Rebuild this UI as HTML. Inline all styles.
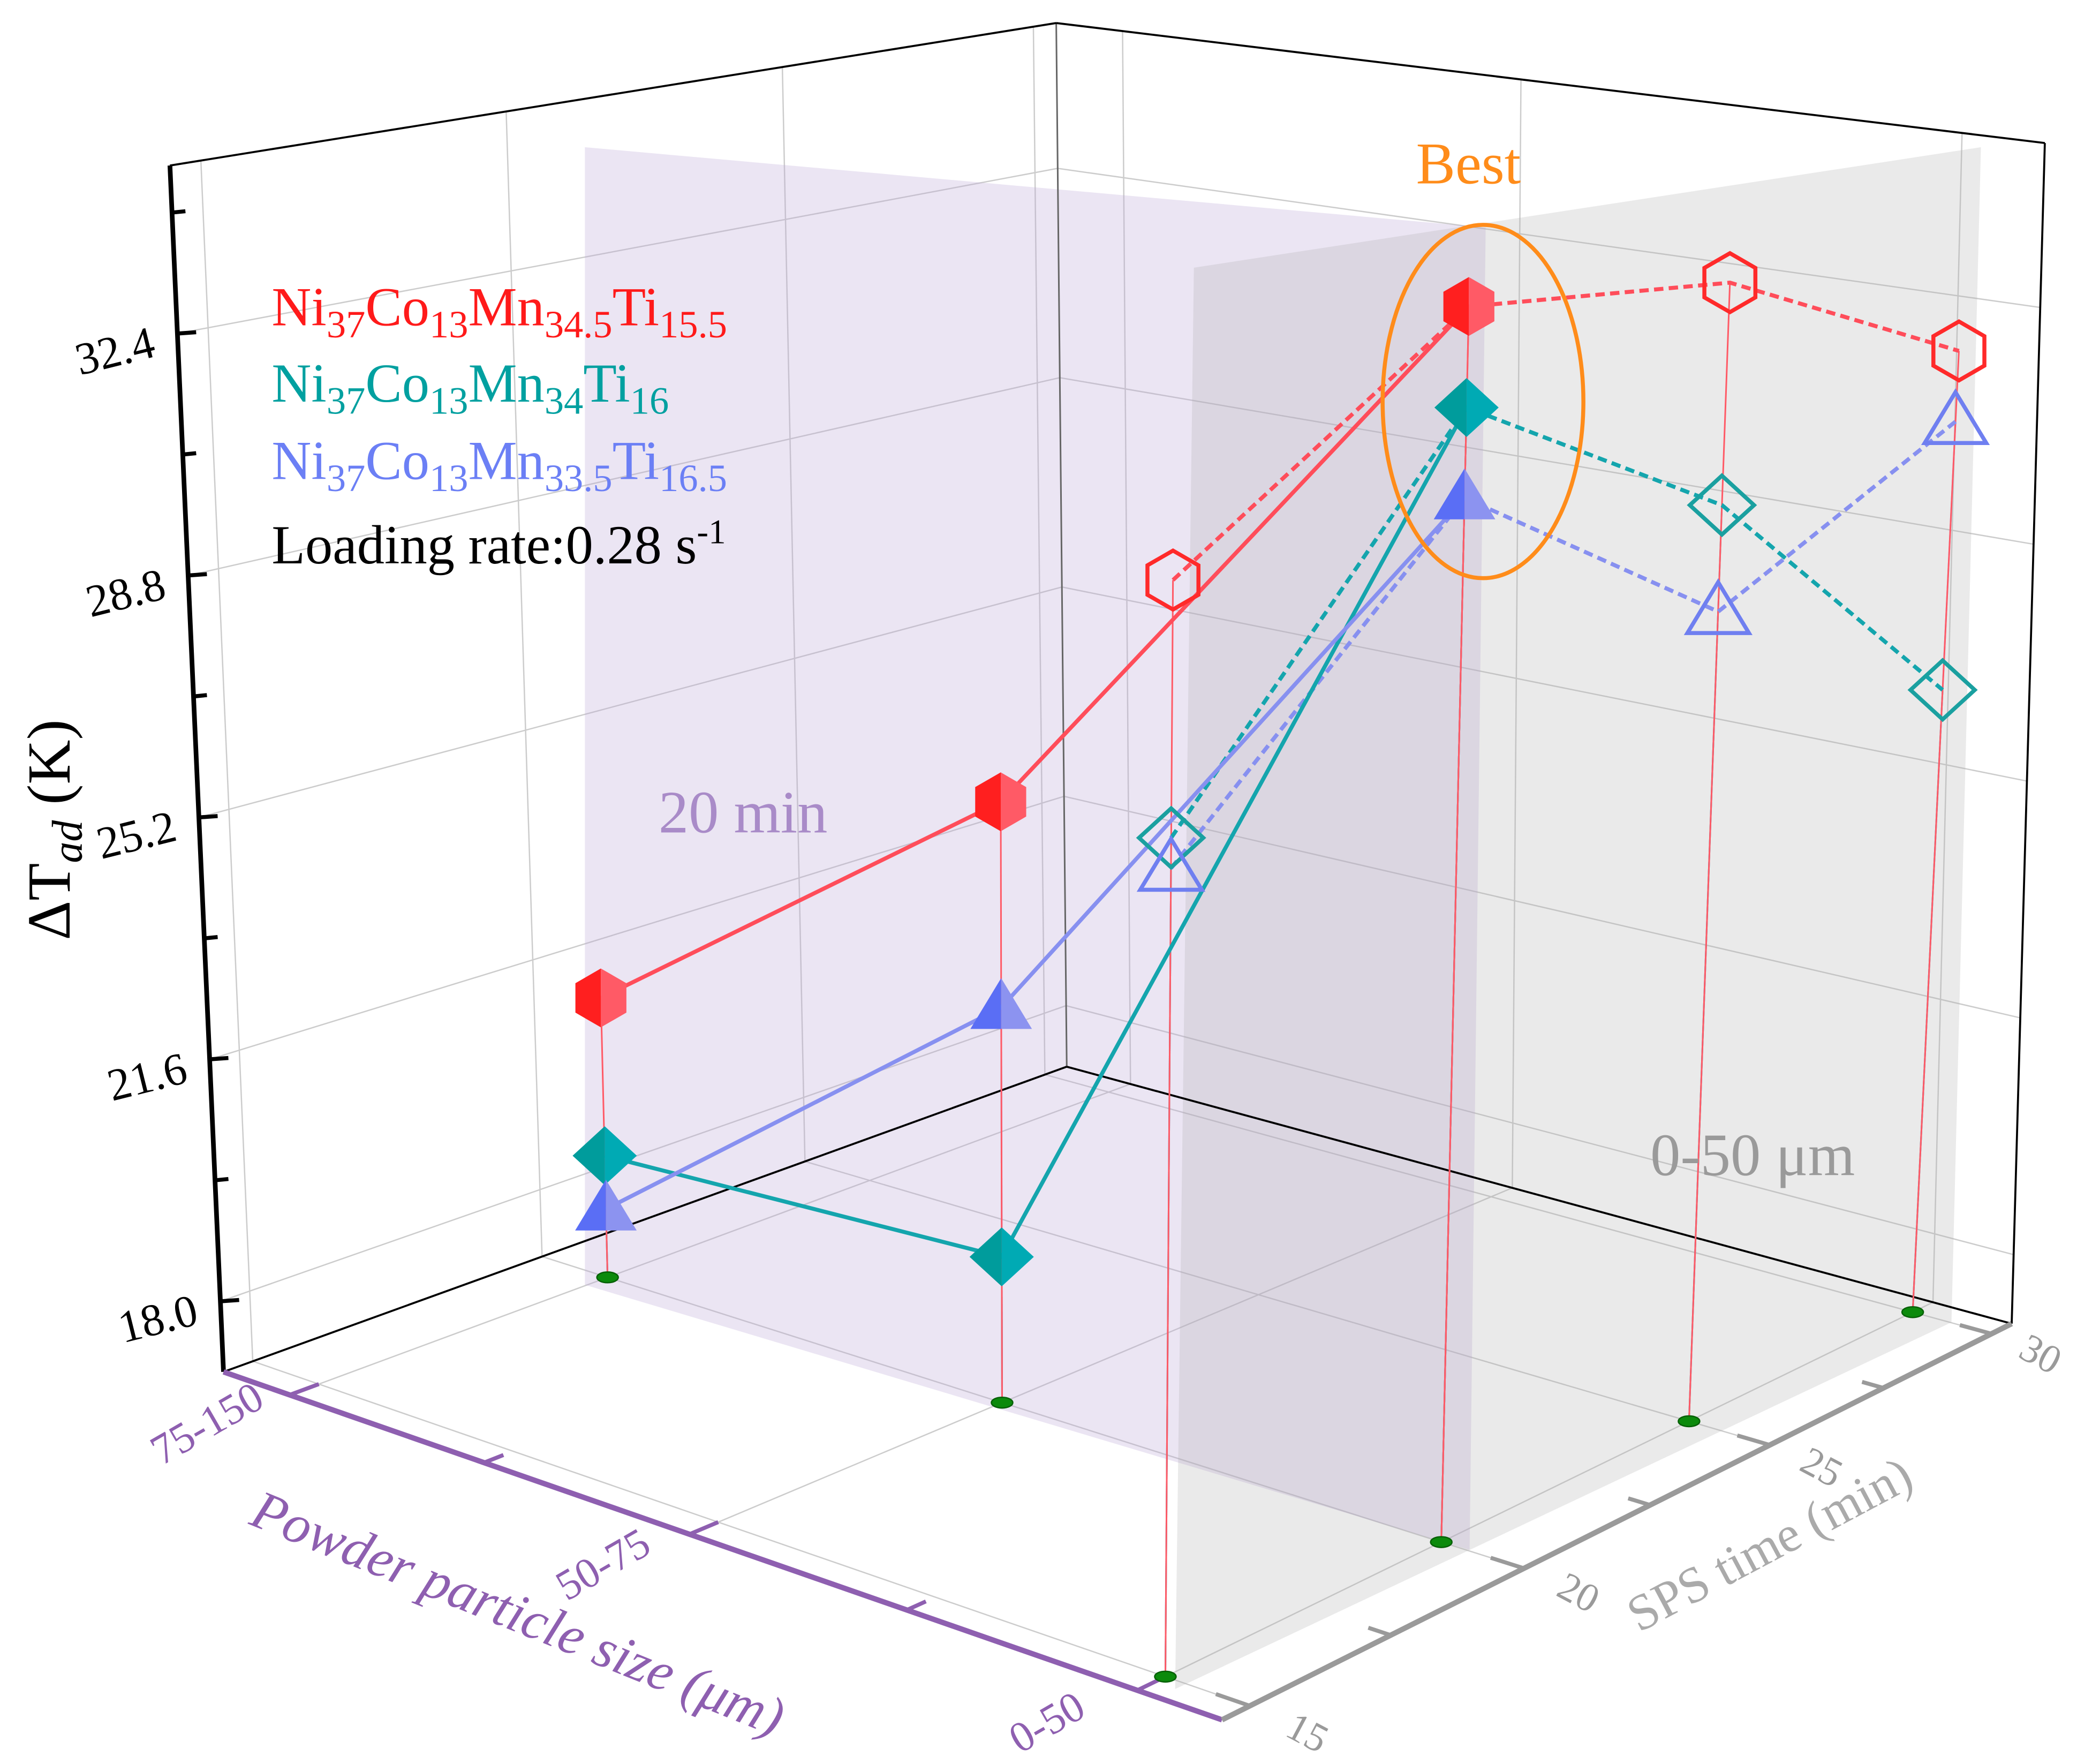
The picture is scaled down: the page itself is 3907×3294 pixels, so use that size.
<!DOCTYPE html>
<html><head><meta charset="utf-8"><title>ΔTad 3D chart</title>
<style>
html,body{margin:0;padding:0;background:#fff;}
svg{display:block;}
text{font-family:"Liberation Serif",serif;}
</style></head>
<body>
<svg id="chart" xmlns="http://www.w3.org/2000/svg" width="3907" height="3294" viewBox="0 0 1563 1318" preserveAspectRatio="none">
<rect x="0" y="0" width="1563" height="1318" fill="#ffffff"/>
<g id="grid"></g>
<polygon points="437,110 1110,170 1098,1158 437,960" fill="rgb(190,168,215)" fill-opacity="0.3"/>
<polygon points="892,200 1480,110 1458,988 878,1262" fill="rgb(170,170,170)" fill-opacity="0.25"/>
<g id="axes"></g>
<g id="marks"></g>
<ellipse cx="1108" cy="300" rx="75" ry="132" fill="none" stroke="#ff8c1a" stroke-width="3"/>
<text x="1058" y="137" font-size="44" fill="#ff8c1a">Best</text>
<text x="492" y="622" font-size="45" fill="#a98bc8">20 min</text>
<text x="1233" y="878" font-size="45" fill="#9a9a9a">0-50 μm</text>
<g>
<text x="203" y="243" font-size="41" fill="#ff1a1a">Ni<tspan font-size="29" dy="9">37</tspan><tspan dy="-9">Co</tspan><tspan font-size="29" dy="9">13</tspan><tspan dy="-9">Mn</tspan><tspan font-size="29" dy="9">34.5</tspan><tspan dy="-9">Ti</tspan><tspan font-size="29" dy="9">15.5</tspan></text>
<text x="203" y="300" font-size="41" fill="#00a0a0">Ni<tspan font-size="29" dy="9">37</tspan><tspan dy="-9">Co</tspan><tspan font-size="29" dy="9">13</tspan><tspan dy="-9">Mn</tspan><tspan font-size="29" dy="9">34</tspan><tspan dy="-9">Ti</tspan><tspan font-size="29" dy="9">16</tspan></text>
<text x="203" y="358" font-size="41" fill="#6b7ff5">Ni<tspan font-size="29" dy="9">37</tspan><tspan dy="-9">Co</tspan><tspan font-size="29" dy="9">13</tspan><tspan dy="-9">Mn</tspan><tspan font-size="29" dy="9">33.5</tspan><tspan dy="-9">Ti</tspan><tspan font-size="29" dy="9">16.5</tspan></text>
<text x="203" y="421" font-size="41" fill="#000">Loading rate:0.28 s<tspan font-size="26" dy="-15">-1</tspan></text>
</g>
<text transform="translate(52,620) rotate(-90)" text-anchor="middle" font-size="46" fill="#000">ΔT<tspan font-style="italic" font-size="32" dy="9">ad</tspan><tspan dy="-9"> (K)</tspan></text>
<text transform="translate(382,1218) rotate(22)" text-anchor="middle" font-size="41" font-style="italic" fill="#8e5fb0">Powder particle size (μm)</text>
<text transform="translate(1328,1165) rotate(-28)" text-anchor="middle" font-size="38" fill="#aaaaaa">SPS time (min)</text>
</svg>
<script>
// ---- data ----
const particleCats = ['75-150', '50-75', '0-50'];
const spsTimes = [15, 20, 25, 30];
const zTicks = [18.0, 21.6, 25.2, 28.8, 32.4];
const zTickLabels = ['18.0', '21.6', '25.2', '28.8', '32.4'];
// 20 min series vs particle size
const sizeRed = [21.29, 25.77, 34.05];
const sizeTeal = [18.84, 19.09, 32.65];
const sizeBlue = [18.01, 22.75, 31.40];
// 0-50 um series vs SPS time
const timeRed = [31.33, 34.05, 33.53, 31.64];
const timeTeal = [27.95, 32.65, 30.29, 26.46];
const timeBlue = [27.55, 31.40, 28.74, 30.56];

// ---- projection (axis functions) ----
const ZMIN = 16.95, ZMAX = 34.9;
const VX = 985, VY = 19441;      // box edges
const DVX = 779, DVY = 14500;    // data marks
const C = [[167,1025],[913,1285],[1503,989],[797,797]]; // floor corners L,F,R,B
const hom = (function(){
  const [p0,p1,p2,p3] = C;
  const dx1=p1[0]-p2[0], dx2=p3[0]-p2[0], dx3=p0[0]-p1[0]+p2[0]-p3[0];
  const dy1=p1[1]-p2[1], dy2=p3[1]-p2[1], dy3=p0[1]-p1[1]+p2[1]-p3[1];
  const den=dx1*dy2-dx2*dy1;
  const g=(dx3*dy2-dx2*dy3)/den, h=(dx1*dy3-dx3*dy1)/den;
  return {a:p1[0]-p0[0]+g*p1[0], b:p3[0]-p0[0]+h*p3[0], c:p0[0],
          d:p1[1]-p0[1]+g*p1[1], e:p3[1]-p0[1]+h*p3[1], f:p0[1], g:g, h:h};
})();
function floorPt(u,v){
  const w=hom.g*u+hom.h*v+1;
  return [(hom.a*u+hom.b*v+hom.c)/w,(hom.d*u+hom.e*v+hom.f)/w];
}
function boxH(fy){return 783+0.533*(fy-803);}
function P(u,v,z){
  const f=floorPt(u,v);
  const y=f[1]-(z-ZMIN)/(ZMAX-ZMIN)*boxH(f[1]);
  const x=VX+(f[0]-VX)*(VY-y)/(VY-f[1]);
  return [x,y];
}
function PD(u,v,z){
  const f=floorPt(u,v);
  const y=f[1]-(z-ZMIN)/(ZMAX-ZMIN)*boxH(f[1]);
  const x=DVX+(f[0]-DVX)*(DVY-y)/(DVY-f[1]);
  return [x,y];
}
function uScale(i){return 0.075+0.85*i/(particleCats.length-1);}
function vScale(t){return 0.03+0.94*(t-15)/15;}

const NS='http://www.w3.org/2000/svg';
function mk(tag, parent, attrs){
  const el=document.createElementNS(NS,tag);
  for(const k in attrs) el.setAttribute(k,attrs[k]);
  parent.appendChild(el);
  return el;
}
function pts(arr){return arr.map(p=>p[0].toFixed(1)+','+p[1].toFixed(1)).join(' ');}

const grid=document.getElementById('grid');
const axes=document.getElementById('axes');
const marks=document.getElementById('marks');

// ---- grid ----
zTicks.forEach((z,i)=>{
  const el=mk('polyline',grid,{points:pts([P(0,0,z),P(0,1,z),P(1,1,z)]),fill:'none',stroke:'#cccccc','stroke-width':1});
  
  
});
spsTimes.forEach(t=>{
  const v=vScale(t);
  const a=mk('line',grid,{x1:P(0,v,ZMIN)[0],y1:P(0,v,ZMIN)[1],x2:P(0,v,ZMAX)[0],y2:P(0,v,ZMAX)[1],stroke:'#cccccc','stroke-width':1});
  
  
  const b=mk('line',grid,{x1:P(0,v,ZMIN)[0],y1:P(0,v,ZMIN)[1],x2:P(1,v,ZMIN)[0],y2:P(1,v,ZMIN)[1],stroke:'#cccccc','stroke-width':1});
  
  
});
particleCats.forEach((c,i)=>{
  const u=uScale(i);
  const a=mk('line',grid,{x1:P(u,1,ZMIN)[0],y1:P(u,1,ZMIN)[1],x2:P(u,1,ZMAX)[0],y2:P(u,1,ZMAX)[1],stroke:'#cccccc','stroke-width':1});
  
  
  const b=mk('line',grid,{x1:P(u,0,ZMIN)[0],y1:P(u,0,ZMIN)[1],x2:P(u,1,ZMIN)[0],y2:P(u,1,ZMIN)[1],stroke:'#cccccc','stroke-width':1});
  
  
});

// ---- box edges & axes ----
function line(parent,a,b,stroke,w,name){
  const el=mk('line',parent,{x1:a[0],y1:a[1],x2:b[0],y2:b[1],stroke:stroke,'stroke-width':w});
  
  
  return el;
}
line(axes,P(0,1,ZMIN),P(0,1,ZMAX),'#666',1.2,'back-vertical-edge');
line(axes,P(0,0,ZMIN),P(0,1,ZMIN),'#000',1.5,'floor-left-edge');
line(axes,P(0,1,ZMIN),P(1,1,ZMIN),'#000',1.5,'floor-back-edge');
line(axes,P(0,0,ZMAX),P(0,1,ZMAX),'#000',1.5,'top-left-edge');
line(axes,P(0,1,ZMAX),P(1,1,ZMAX),'#000',1.5,'top-back-edge');
line(axes,P(1,1,ZMIN),P(1,1,ZMAX),'#000',1.5,'right-vertical-edge');
line(axes,P(0,0,ZMIN),P(0,0,ZMAX),'#000',3.5,'z-axis-line');
line(axes,P(0,0,ZMIN),P(1,0,ZMIN),'#8e5fb0',4,'particle-axis-line');
line(axes,P(1,0,ZMIN),P(1,1,ZMIN),'#9a9a9a',4,'time-axis-line');

// z ticks
zTicks.forEach((z,i)=>{
  const p=P(0,0,z);
  line(axes,p,[p[0]+14,p[1]-1],'#000',3,'z-major-tick');
  const lx=p[0]-44, ly=p[1]+24;
  const t=mk('text',axes,{x:lx,y:ly,'font-size':34,'text-anchor':'middle',fill:'#000',transform:'rotate(-14 '+lx+' '+ly+')'});
  t.textContent=zTickLabels[i];
  
  
  const zm=z+1.8;
  if(zm<ZMAX){
    const q=P(0,0,zm);
    line(axes,q,[q[0]+10,q[1]-1],'#000',3,'z-minor-tick');
  }
});
// particle ticks
particleCats.forEach((c,i)=>{
  const u=uScale(i);
  const a=P(u,0,ZMIN), b=P(u,0.03,ZMIN);
  line(axes,a,b,'#8e5fb0',3,'particle-major-tick');
  if(i<particleCats.length-1){
    const um=(uScale(i)+uScale(i+1))/2;
    line(axes,P(um,0,ZMIN),P(um,0.02,ZMIN),'#8e5fb0',3,'particle-minor-tick');
  }
  const lp0=P(u-0.045,-0.07,ZMIN);
  const lp=[lp0[0]+25,lp0[1]+22];
  const t=mk('text',axes,{x:lp[0],y:lp[1],'font-size':32,'text-anchor':'middle',fill:'#8e5fb0',transform:'rotate(-30 '+lp[0]+' '+lp[1]+')'});
  t.textContent=c;
  
  
});
// time ticks
spsTimes.forEach((tm,i)=>{
  const v=vScale(tm);
  line(axes,P(1,v,ZMIN),P(0.97,v,ZMIN),'#9a9a9a',3,'time-major-tick');
  if(i<spsTimes.length-1){
    const vm=vScale(tm+2.5);
    line(axes,P(1,vm,ZMIN),P(0.98,vm,ZMIN),'#9a9a9a',3,'time-minor-tick');
  }
  const lp0=P(1.075,v+0.01,ZMIN);
  const lp=[lp0[0]-33,lp0[1]+10];
  const t=mk('text',axes,{x:lp[0],y:lp[1],'font-size':30,'text-anchor':'middle',fill:'#9a9a9a',transform:'rotate(28 '+lp[0]+' '+lp[1]+')'});
  t.textContent=String(tm);
  
  
});

// ---- marks ----
const sizePts = (vals)=>vals.map((z,i)=>({u:uScale(i),v:vScale(20),z:z}));
const timePts = (vals)=>vals.map((z,i)=>({u:uScale(particleCats.length-1),v:vScale(spsTimes[i]),z:z}));
const series=[
  {key:'red', size:sizeRed, time:timeRed, line:'#ff4d5a', drop:'#ff5a66', shape:'hex', c1:'#ff1f1f', c2:'#ff5a66', open:'#ff2a2a'},
  {key:'teal', size:sizeTeal, time:timeTeal, line:'#14a5ad', drop:'#14a5ad', shape:'diamond', c1:'#009c9c', c2:'#00aab4', open:'#1aa0a0'},
  {key:'blue', size:sizeBlue, time:timeBlue, line:'#8790f0', drop:'#8790f0', shape:'tri', c1:'#5a6ef5', c2:'#8c93f0', open:'#6f7ff0'}
];

const floorLocs=[];
particleCats.forEach((c,i)=>floorLocs.push([uScale(i),vScale(20)]));
spsTimes.forEach(t=>{ if(t!==20) floorLocs.push([uScale(particleCats.length-1),vScale(t)]); });

// drop lines
series.slice().reverse().forEach(s=>{
  sizePts(s.size).concat(timePts(s.time)).forEach(p=>{
    const a=PD(p.u,p.v,p.z), b=PD(p.u,p.v,ZMIN);
    const el=mk('line',marks,{x1:a[0],y1:a[1],x2:b[0],y2:b[1],stroke:s.drop,'stroke-width':1.2});
    
    
  });
});
floorLocs.forEach(l=>{
  const p=PD(l[0],l[1],ZMIN);
  const el=mk('ellipse',marks,{cx:p[0],cy:p[1],rx:8,ry:4,fill:'#0c8a0c',stroke:'#066006','stroke-width':1});
  
  
});
// dashed lines (time series)
series.forEach(s=>{
  const el=mk('polyline',marks,{points:pts(timePts(s.time).map(p=>PD(p.u,p.v,p.z))),fill:'none',stroke:s.line,'stroke-width':3,'stroke-dasharray':'7 4'});
  
  
});
// solid lines (size series)
series.forEach(s=>{
  const el=mk('polyline',marks,{points:pts(sizePts(s.size).map(p=>PD(p.u,p.v,p.z))),fill:'none',stroke:s.line,'stroke-width':3});
  
  
});

function shapeHalves(shape,x,y){
  if(shape==='hex'){
    const r=22,k=0.866*r;
    return {left:[[x,y-r],[x-k,y-r/2],[x-k,y+r/2],[x,y+r]], right:[[x,y-r],[x+k,y-r/2],[x+k,y+r/2],[x,y+r]],
      full:[[x,y-r],[x+k,y-r/2],[x+k,y+r/2],[x,y+r],[x-k,y+r/2],[x-k,y-r/2]]};
  } else if(shape==='diamond'){
    const w=24,h=22;
    return {left:[[x,y-h],[x-w,y],[x,y+h]], right:[[x,y-h],[x+w,y],[x,y+h]], full:[[x,y-h],[x+w,y],[x,y+h],[x-w,y]]};
  } else {
    const w=23,h1=22,h2=16;
    return {left:[[x,y-h1],[x-w,y+h2],[x,y+h2]], right:[[x,y-h1],[x+w,y+h2],[x,y+h2]], full:[[x,y-h1],[x+w,y+h2],[x-w,y+h2]]};
  }
}
series.forEach(s=>{
  sizePts(s.size).forEach(p=>{
    const q=PD(p.u,p.v,p.z);
    const hv=shapeHalves(s.shape,q[0],q[1]);
    const a=mk('polygon',marks,{points:pts(hv.left),fill:s.c1});
    
    
    const b=mk('polygon',marks,{points:pts(hv.right),fill:s.c2});
    
    
  });
});
series.forEach(s=>{
  timePts(s.time).forEach((p,i)=>{
    if(spsTimes[i]===20) return;
    const q=PD(p.u,p.v,p.z);
    const hv=shapeHalves(s.shape,q[0],q[1]);
    const el=mk('polygon',marks,{points:pts(hv.full),fill:'none',stroke:s.open,'stroke-width':3});
    
    
  });
});
</script>
</body></html>
